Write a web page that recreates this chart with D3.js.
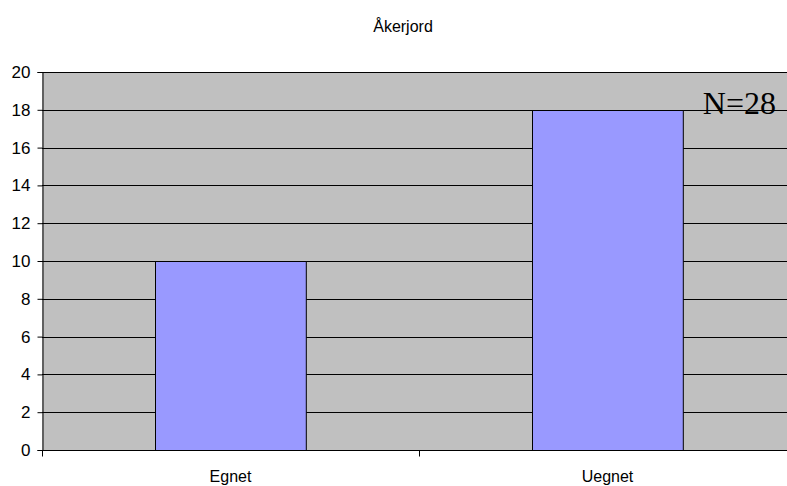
<!DOCTYPE html>
<html>
<head>
<meta charset="utf-8">
<script src="https://cdn.jsdelivr.net/npm/d3@7"></script>
<style>
  html, body { margin: 0; padding: 0; background: #fff; overflow: hidden; }
  svg { display: block; }
</style>
</head>
<body>
<svg id="chart" width="787" height="486"></svg>
<script>
// Data
const categories = ["Egnet", "Uegnet"];
const values = [10, 18];
const yTicks = [0, 2, 4, 6, 8, 10, 12, 14, 16, 18, 20];
const title = "Åkerjord";
const note = "N=28";

const svg = d3.select("#chart");
const plot = { left: 42, top: 72, width: 754, height: 378 };

const x = d3.scaleBand()
  .domain(categories)
  .range([plot.left, plot.left + plot.width])
  .paddingInner(0.6)
  .paddingOuter(0.3);

const y = d3.scaleLinear()
  .domain([0, 20])
  .range([plot.top + plot.height, plot.top]);

// Plot background
svg.append("rect")
  .attr("x", plot.left).attr("y", plot.top)
  .attr("width", plot.width).attr("height", plot.height)
  .attr("fill", "#c0c0c0");

// Horizontal gridlines
svg.append("g")
  .selectAll("line")
  .data(yTicks.filter(d => d > 0))
  .join("line")
  .attr("x1", plot.left).attr("x2", plot.left + plot.width)
  .attr("y1", d => Math.round(y(d)) + 0.5)
  .attr("y2", d => Math.round(y(d)) + 0.5)
  .attr("stroke", "#000").attr("stroke-width", 1);

// Bars
svg.append("g")
  .selectAll("rect")
  .data(values)
  .join("rect")
  .attr("x", (d, i) => Math.round(x(categories[i])) + 0.5)
  .attr("y", d => Math.round(y(d)) + 0.5)
  .attr("width", x.bandwidth())
  .attr("height", d => Math.round(y(0)) - Math.round(y(d)))
  .attr("fill", "#9999ff")
  .attr("stroke", "#000").attr("stroke-width", 1);

// Y axis
const yAxis = d3.axisLeft(y)
  .tickValues(yTicks)
  .tickSize(5)
  .tickPadding(7)
  .tickFormat(d3.format("d"));
const gy = svg.append("g")
  .attr("transform", `translate(${plot.left + 0.5},0)`)
  .call(yAxis);
gy.select(".domain").attr("stroke", "#000");
gy.selectAll(".tick line").attr("stroke", "#000");
gy.selectAll(".tick text")
  .attr("font-family", "Liberation Sans, Arial, sans-serif")
  .attr("font-size", 17)
  .attr("fill", "#000");

// X axis (category boundaries carry the tick marks)
const gx = svg.append("g")
  .attr("transform", `translate(0,${Math.round(y(0)) + 0.5})`);
gx.append("line")
  .attr("x1", plot.left).attr("x2", plot.left + plot.width)
  .attr("stroke", "#000");
const bounds = [plot.left, plot.left + plot.width / 2, plot.left + plot.width];
gx.selectAll("line.tick")
  .data(bounds)
  .join("line")
  .attr("class", "tick")
  .attr("x1", d => Math.round(d) + 0.5).attr("x2", d => Math.round(d) + 0.5)
  .attr("y1", 0).attr("y2", 6)
  .attr("stroke", "#000");
gx.selectAll("text")
  .data(categories)
  .join("text")
  .attr("x", d => x(d) + x.bandwidth() / 2)
  .attr("y", 31.5)
  .attr("text-anchor", "middle")
  .attr("font-family", "Liberation Sans, Arial, sans-serif")
  .attr("font-size", 16)
  .attr("fill", "#000")
  .text(d => d);

// Title
svg.append("text")
  .attr("x", 403).attr("y", 32)
  .attr("text-anchor", "middle")
  .attr("font-family", "Liberation Sans, Arial, sans-serif")
  .attr("font-size", 16)
  .attr("fill", "#000")
  .text(title);

// Sample size note
svg.append("text")
  .attr("x", 776).attr("y", 114)
  .attr("text-anchor", "end")
  .attr("font-family", "Liberation Serif, Times New Roman, serif")
  .attr("font-size", 32)
  .attr("fill", "#000")
  .text(note);
</script>
</body>
</html>
